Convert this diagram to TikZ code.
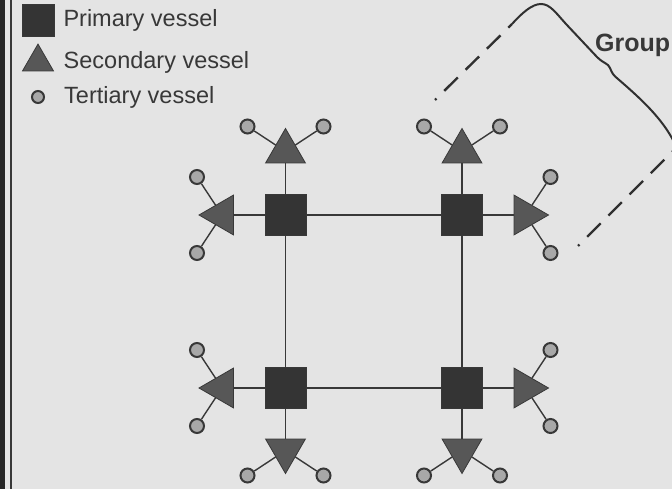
\documentclass[tikz,border=0pt]{standalone}
\usepackage{fontspec}
\setmainfont{Liberation Sans}
\usetikzlibrary{positioning, shapes.geometric}

\definecolor{paper}{HTML}{E4E4E4}
\definecolor{ink}{HTML}{383838}
\definecolor{primfill}{HTML}{343434}
\definecolor{secfill}{HTML}{575757}
\definecolor{terfill}{HTML}{A8A8A8}

\begin{document}
\begin{tikzpicture}[x=1pt, y=-1pt,
		prim/.style={on grid, rectangle, fill=primfill, draw=ink, line width=0.6pt, minimum size=41pt, inner sep=0pt},
		sec/.style={on grid, regular polygon, regular polygon sides=3, fill=secfill, draw=ink, line width=0.8pt, minimum size=46pt, inner sep=0pt},
		ter/.style={on grid, circle, fill=terfill, draw=ink, line width=2pt, minimum size=14pt, inner sep=0pt},
		link/.style={draw=ink, line width=1.4pt},
		grpline/.style={draw=ink!85!black, line width=2pt},
		grpdash/.style={draw=ink!85!black, line width=2.4pt, dash pattern=on 19pt off 11pt, dash phase=17pt},
		legtext/.style={draw=none, fill=none, inner sep=0pt, text=ink, font=\fontsize{23.5}{28}\selectfont}]
			\useasboundingbox (0,0) rectangle (672,489);
			\fill[paper] (0,0) rectangle (672,489);
			\fill[black!85] (0,0) rectangle (5,489);
			\draw[ink, line width=2pt] (11,0) -- (11,489);

			% legend
			\node[prim, minimum size=32pt]  (legPrim)  at (38,20) {};
			\node[sec, minimum size=35.8pt, below=42pt of legPrim]  (legSec)  {};
			\node[ter, minimum size=12pt, below=35pt of legSec]  (legTer)  {};
			\node[legtext, right=9pt of legPrim]  (legPrimText)  {Primary vessel};
			\node[legtext, right=25.5pt of legSec.center]  (legSecText)  {Secondary vessel};
			\node[legtext, right=26pt of legTer.center]  (legTerText)  {Tertiary vessel};

			% primary vessels
			\node[prim]  (sqTL)  at (285.5,215) {};
			\node[prim, right=176.5pt of sqTL]  (sqTR)  {};
			\node[prim, below=173pt of sqTL]  (sqBL)  {};
			\node[prim, right=176.5pt of sqBL]  (sqBR)  {};

			% secondary vessels
			\node[sec, above=63.5pt of sqTL]  (secTLa)  {};
			\node[sec, shape border rotate=90, left=63.5pt of sqTL]  (secTLl)  {};
			\node[sec, above=63.5pt of sqTR]  (secTRa)  {};
			\node[sec, shape border rotate=-90, right=63.5pt of sqTR]  (secTRr)  {};
			\node[sec, shape border rotate=90, left=63.5pt of sqBL]  (secBLl)  {};
			\node[sec, shape border rotate=180, below=62.5pt of sqBL]  (secBLb)  {};
			\node[sec, shape border rotate=-90, right=63.5pt of sqBR]  (secBRr)  {};
			\node[sec, shape border rotate=180, below=62.5pt of sqBR]  (secBRb)  {};

			% tertiary vessels
			\node[ter, above left=25pt and 38pt of secTLa]  (terTLa1)  {};
			\node[ter, above right=25pt and 38pt of secTLa]  (terTLa2)  {};
			\node[ter, above left=38pt and 25pt of secTLl]  (terTLl1)  {};
			\node[ter, below left=38pt and 25pt of secTLl]  (terTLl2)  {};
			\node[ter, above left=25pt and 38pt of secTRa]  (terTRa1)  {};
			\node[ter, above right=25pt and 38pt of secTRa]  (terTRa2)  {};
			\node[ter, above right=38pt and 25pt of secTRr]  (terTRr1)  {};
			\node[ter, below right=38pt and 25pt of secTRr]  (terTRr2)  {};
			\node[ter, above left=38pt and 25pt of secBLl]  (terBLl1)  {};
			\node[ter, below left=38pt and 25pt of secBLl]  (terBLl2)  {};
			\node[ter, below left=25pt and 38pt of secBLb]  (terBLb1)  {};
			\node[ter, below right=25pt and 38pt of secBLb]  (terBLb2)  {};
			\node[ter, above right=38pt and 25pt of secBRr]  (terBRr1)  {};
			\node[ter, below right=38pt and 25pt of secBRr]  (terBRr2)  {};
			\node[ter, below left=25pt and 38pt of secBRb]  (terBRb1)  {};
			\node[ter, below right=25pt and 38pt of secBRb]  (terBRb2)  {};

			\draw[link] (sqTL) -- (sqTR);
			\draw[link] (sqTL) -- (sqBL);
			\draw[link] (sqTR) -- (sqBR);
			\draw[link] (sqBL) -- (sqBR);

			\draw[link] (sqTL) -- (secTLa);
			\draw[link] (sqTL) -- (secTLl);
			\draw[link] (sqTR) -- (secTRa);
			\draw[link] (sqTR) -- (secTRr);
			\draw[link] (sqBL) -- (secBLl);
			\draw[link] (sqBL) -- (secBLb);
			\draw[link] (sqBR) -- (secBRr);
			\draw[link] (sqBR) -- (secBRb);

			\draw[link] (terTLa1) -- (secTLa) -- (terTLa2);
			\draw[link] (terTLl1) -- (secTLl) -- (terTLl2);
			\draw[link] (terTRa1) -- (secTRa) -- (terTRa2);
			\draw[link] (terTRr1) -- (secTRr) -- (terTRr2);
			\draw[link] (terBLl1) -- (secBLl) -- (terBLl2);
			\draw[link] (terBLb1) -- (secBLb) -- (terBLb2);
			\draw[link] (terBRr1) -- (secBRr) -- (terBRr2);
			\draw[link] (terBRb1) -- (secBRb) -- (terBRb2);

			% group outline
			\coordinate (grpA) at (435,100);
			\coordinate (grpB) at (512,24);
			\coordinate (grpC) at (674,150);
			\coordinate (grpD) at (578,246);
			\draw[grpdash] (grpA) -- (grpB);
			\draw[grpdash] (grpD) -- (grpC);
			\draw[grpline] (grpB) .. controls (522,13) and (532,4) .. (541,4)
				.. controls (550,4) and (556,13) .. (566,24) -- (597,57)
				.. controls (604,64) and (608,63) .. (610,68)
				.. controls (612,73) and (613,75) .. (618,79)
				.. controls (640,98) and (662,118) .. (674,142);
			\node[draw=none, fill=none, inner sep=0pt, anchor=west, text=ink, font=\bfseries\fontsize{25}{30}\selectfont] (grp) at (595,45) {Group};
		\end{tikzpicture}
\end{document}
